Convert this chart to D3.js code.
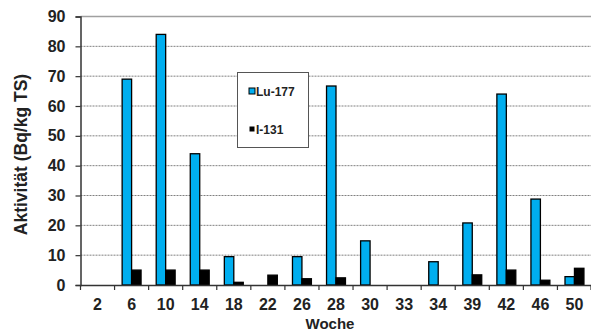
<!DOCTYPE html>
<html><head><meta charset="utf-8">
<script src="https://cdn.jsdelivr.net/npm/d3@7"></script>
<style>
body{margin:0;background:#fff;}
svg{display:block;font-family:"Liberation Sans",Arial,sans-serif;font-weight:bold;}
</style></head>
<body>
<svg id="chart" width="591" height="331"></svg>
<script>
const weeks = ["2","6","10","14","18","22","26","28","30","33","34","39","42","46","50"];
const lu177 = [0,69,84,44,9.5,0,9.5,66.7,14.8,0,7.8,20.8,64,28.8,2.8];
const i131  = [0,5,5,5,0.9,3.3,2.1,2.4,0,0,0,3.4,5,1.6,5.6];
const seriesNames = ["Lu-177","I-131"];
const seriesColors = ["#00AEEF","#000000"];
const yTicks = [0,10,20,30,40,50,60,70,80,90];

(function(){
const svg = d3.select("#chart");
const pL = 80.5, pR = 591.5, pT = 16.5, pB = 285;
const FF = "Liberation Sans, Arial, sans-serif";

const x = d3.scaleBand().domain(weeks).range([pL, pR]).padding(0);
const x1 = d3.scaleBand().domain(seriesNames).range([0, x.bandwidth()]).paddingInner(0).paddingOuter(0.8);
const y = d3.scaleLinear().domain([0, 90]).range([pB, pT]);

// gridlines
svg.append("g").selectAll("line").data(yTicks.filter(t => t > 0 && t < 90)).join("line")
  .attr("x1", pL).attr("x2", pR)
  .attr("y1", d => y(d)).attr("y2", d => y(d))
  .attr("stroke", "#808080").attr("stroke-width", 1).attr("stroke-dasharray", "2,1");
// top border
svg.append("line").attr("x1", pL).attr("x2", pR).attr("y1", y(90)).attr("y2", y(90))
  .attr("stroke", "#a0a0a0").attr("stroke-width", 1.5);

// bars
const data = weeks.map((w, i) => ({w, vals: [lu177[i], i131[i]]}));
const g = svg.append("g").selectAll("g").data(data).join("g")
  .attr("transform", d => `translate(${x(d.w)},0)`);
g.selectAll("rect").data(d => d.vals.map((v, j) => ({v, s: seriesNames[j], j})).filter(e => e.v > 0)).join("rect")
  .attr("x", d => x1(d.s))
  .attr("width", x1.bandwidth())
  .attr("y", d => y(d.v))
  .attr("height", d => y(0) - y(d.v))
  .attr("fill", d => seriesColors[d.j])
  .attr("stroke", "#000").attr("stroke-width", 1.3);

// y axis
const yAxis = d3.axisLeft(y).tickValues(yTicks).tickSize(5).tickPadding(10);
const ya = svg.append("g").attr("transform", `translate(${pL},0)`).call(yAxis);
ya.select(".domain").attr("stroke", "#333").attr("stroke-width", 1.5);
ya.selectAll(".tick line").attr("stroke", "#333").attr("stroke-width", 1.2);
ya.selectAll("text").attr("font-size", 16).attr("fill", "#222").attr("font-family", FF).attr("font-weight", "bold");

// x axis
const xAxis = d3.axisBottom(x).tickSize(0).tickPadding(13.5);
const xa = svg.append("g").attr("transform", `translate(0,${pB})`).call(xAxis);
xa.select(".domain").attr("stroke", "#333").attr("stroke-width", 1.5);
xa.selectAll("text").attr("font-size", 16).attr("fill", "#222").attr("font-family", FF).attr("font-weight", "bold");
// band boundary ticks
xa.append("g").selectAll("line").data(weeks).join("line")
  .attr("x1", d => x(d)).attr("x2", d => x(d))
  .attr("y1", 0).attr("y2", 5).attr("stroke", "#333").attr("stroke-width", 1.2);
xa.append("line").attr("x1", pR - 0.5).attr("x2", pR - 0.5).attr("y1", 0).attr("y2", 5)
  .attr("stroke", "#333").attr("stroke-width", 1.2);

// axis titles
svg.append("text").attr("transform", `translate(26.5,154.5) rotate(-90)`)
  .attr("text-anchor", "middle").attr("font-size", 17.5).attr("fill", "#222")
  .text("Aktivität (Bq/kg TS)");
svg.append("text").attr("x", 330).attr("y", 329).attr("text-anchor", "middle")
  .attr("font-size", 15).attr("fill", "#222").text("Woche");

// legend
const lg = svg.append("g");
lg.append("rect").attr("x", 237.5).attr("y", 72.5).attr("width", 71).attr("height", 75)
  .attr("fill", "#fff").attr("stroke", "#555").attr("stroke-width", 1);
const legY = [91, 129];
seriesNames.forEach((s, i) => {
  if (i === 0) {
    lg.append("rect").attr("x", 249).attr("y", legY[i] - 3).attr("width", 6).attr("height", 6)
      .attr("fill", seriesColors[i]).attr("stroke", "#000").attr("stroke-width", 1);
  } else {
    lg.append("rect").attr("x", 249.5).attr("y", legY[i] - 2.5).attr("width", 5).attr("height", 5)
      .attr("fill", seriesColors[i]);
  }
  lg.append("text").attr("x", 256).attr("y", legY[i] + 4.5).attr("font-size", 12)
    .attr("fill", "#222").text(s);
});
})();
</script>
</body></html>
